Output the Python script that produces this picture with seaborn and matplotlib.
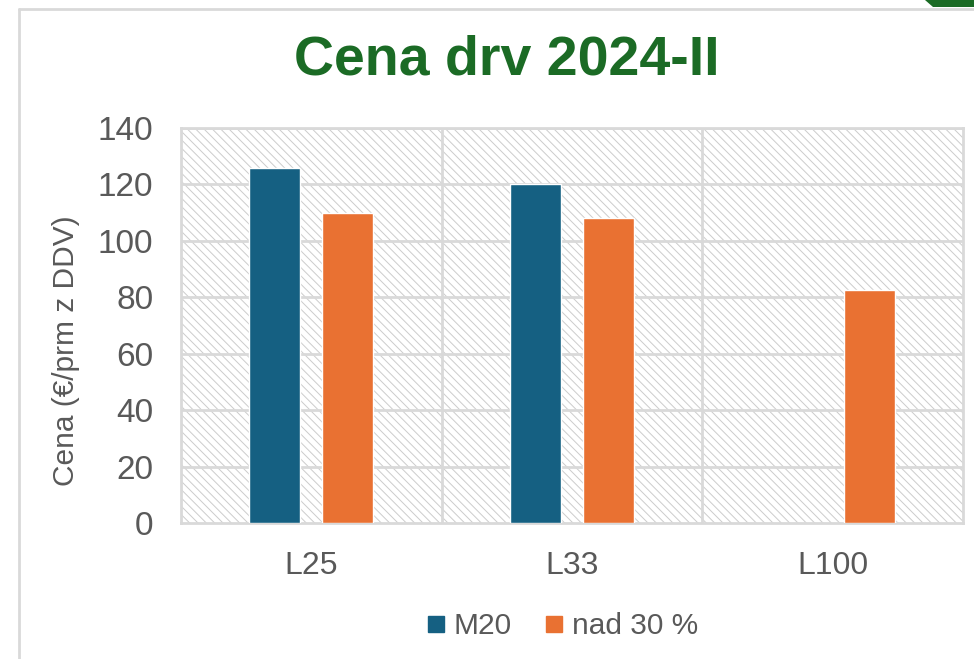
import matplotlib
matplotlib.use("Agg")
import matplotlib.pyplot as plt
from matplotlib.patches import Rectangle, Polygon
from matplotlib.lines import Line2D
import numpy as np
import pandas as pd
import seaborn as sns

# data
categories = ["L25", "L33", "L100"]
m20 = [126, 120, np.nan]
nad30 = [110, 108, 82.5]
series_names = ["M20", "nad 30 %"]
colors = {"M20": "#156082", "nad 30 %": "#E97132"}

df = pd.DataFrame({
    "kategorija": categories * 2,
    "serija": [series_names[0]] * 3 + [series_names[1]] * 3,
    "cena": m20 + nad30,
})

sns.set_theme(style="white")
plt.rcParams["font.family"] = ["Liberation Sans", "DejaVu Sans"]
plt.rcParams["hatch.linewidth"] = 0.7
plt.rcParams["hatch.color"] = "#cccccc"

grey_txt = "#595959"
grid_c = "#d9d9d9"

fig = plt.figure(figsize=(9.74, 6.59), dpi=100)
ax = fig.add_axes([181 / 974, 1 - 523 / 659, (963 - 181) / 974, (523 - 128) / 659])

# hatched plot area
ax.add_patch(Rectangle((0, 0), 1, 1, transform=ax.transAxes, facecolor="white",
                       edgecolor="#cccccc", hatch="\\\\\\\\", linewidth=0, zorder=0))

sns.barplot(data=df, x="kategorija", y="cena", hue="serija", order=categories,
            hue_order=series_names, palette=colors, width=0.56, gap=0.3,
            saturation=1, ax=ax, zorder=3, legend=False)

ax.set_xlim(-0.5, 2.5)
ax.set_ylim(0, 140)
ax.set_yticks(range(0, 141, 20))
for y in range(20, 141, 20):
    ax.axhline(y, color=grid_c, lw=2, zorder=1)
for x in [0.5, 1.5]:
    ax.axvline(x, color=grid_c, lw=2, zorder=1)
for s in ax.spines.values():
    s.set_color(grid_c)
    s.set_linewidth(2)

ax.set_xlabel("")
ax.set_ylabel("Cena (€/prm z DDV)", fontsize=21.5, color=grey_txt, va="center")
ax.yaxis.set_label_coords(-0.147, 0.435)
ax.tick_params(axis="both", length=0, colors=grey_txt)
ax.tick_params(axis="y", pad=20, labelsize=24)
ax.tick_params(axis="x", pad=20, labelsize=23)

fig.text(0.52, 0.908, "Cena drv 2024-II", ha="center", va="center", fontsize=40,
         fontweight="bold", color="#1b6b25")

handles = [Line2D([], [], marker="s", linestyle="none", markersize=12,
                  markerfacecolor=colors[n], markeredgecolor=colors[n]) for n in series_names]
fig.legend(handles, series_names, loc="center", bbox_to_anchor=(0.576, 0.05), ncol=2,
           frameon=False, fontsize=21.5, labelcolor=grey_txt, handletextpad=0.2,
           columnspacing=1.0, handlelength=0.8)

# outer chart frame and corner decoration
fig.add_artist(Line2D([19 / 974, 19 / 974], [0, 1 - 9 / 659], color="#d9d9d9", lw=2))
fig.add_artist(Line2D([19 / 974, 1], [1 - 9 / 659, 1 - 9 / 659], color="#d9d9d9", lw=2))
fig.add_artist(Polygon([(925 / 974, 1), (1, 1), (1, 1 - 7 / 659), (933 / 974, 1 - 7 / 659)],
                       closed=True, transform=fig.transFigure, color="#1b6b25", lw=0))

fig.savefig("out.png", dpi=100)
